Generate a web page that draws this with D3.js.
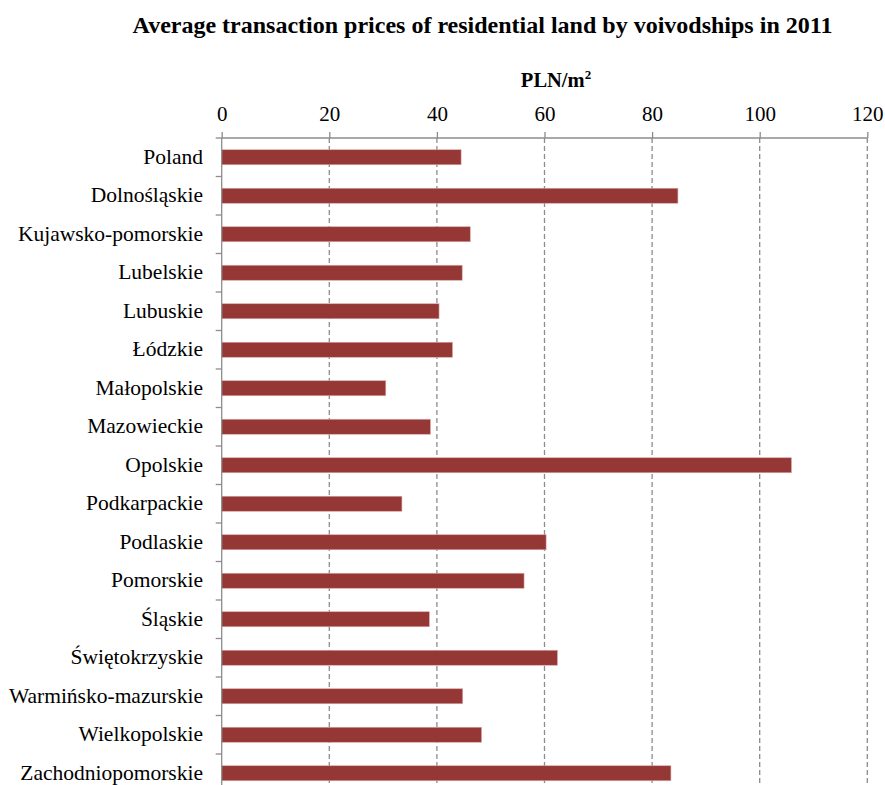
<!DOCTYPE html>
<html>
<head>
<meta charset="utf-8">
<script src="https://cdn.jsdelivr.net/npm/d3@7"></script>
<style>
  html, body { margin: 0; padding: 0; background: #fff; }
  svg { display: block; }
</style>
</head>
<body>
<script>
const categories = ["Poland","Dolnośląskie","Kujawsko-pomorskie","Lubelskie","Lubuskie","Łódzkie","Małopolskie","Mazowieckie","Opolskie","Podkarpackie","Podlaskie","Pomorskie","Śląskie","Świętokrzyskie","Warmińsko-mazurskie","Wielkopolskie","Zachodniopomorskie"];
const values = [44.5, 84.8, 46.2, 44.7, 40.4, 42.9, 30.5, 38.8, 105.9, 33.5, 60.3, 56.2, 38.6, 62.4, 44.8, 48.3, 83.5];
const xTicks = [0, 20, 40, 60, 80, 100, 120];
const title = "Average transaction prices of residential land by voivodships in 2011";

const W = 885, H = 785;
const svg = d3.select("body").append("svg").attr("width", W).attr("height", H);
const font = "'Liberation Serif','Times New Roman',serif";

const x = d3.scaleLinear().domain([0, 120]).range([221.7, 867.3]);
const y = d3.scaleBand().domain(categories).range([138, 138 + 38.5 * categories.length]).paddingInner(0.61).paddingOuter(0.305);

svg.append("text").attr("x", 482.5).attr("y", 33).attr("text-anchor", "middle")
  .attr("font-family", font).attr("font-weight", "bold").attr("font-size", 24).text(title);

const unit = svg.append("text").attr("x", 556).attr("y", 87).attr("text-anchor", "middle")
  .attr("font-family", font).attr("font-weight", "bold").attr("font-size", 20.5);
unit.append("tspan").text("PLN/m");
unit.append("tspan").attr("font-size", 13).attr("dy", -8).text("2");

// gridlines
svg.append("g").selectAll("line").data(xTicks.slice(1)).join("line")
  .attr("x1", d => x(d)).attr("x2", d => x(d)).attr("y1", 138).attr("y2", H)
  .attr("stroke", "#8c8c8c").attr("stroke-width", 1.3).attr("stroke-dasharray", "5,3");

// bars
svg.append("g").selectAll("rect").data(categories).join("rect")
  .attr("x", x(0)).attr("y", d => y(d))
  .attr("width", (d, i) => x(values[i]) - x(0)).attr("height", y.bandwidth())
  .attr("fill", "#953735").attr("stroke", "#d9a9a8").attr("stroke-width", 0.6);

// top axis
const xAxis = d3.axisTop(x).tickValues(xTicks).tickSize(6).tickPadding(11.5).tickFormat(d3.format("d"));
const gx = svg.append("g").attr("transform", "translate(0,138)").call(xAxis);
gx.select(".domain").attr("stroke", "#8c8c8c").attr("stroke-width", 1.3).attr("d", `M${x(0)},0H${x(120)}`);
gx.selectAll(".tick line").attr("stroke", "#8c8c8c").attr("stroke-width", 1.3);
gx.selectAll(".tick text").attr("font-family", font).attr("font-size", 21).attr("fill", "#000");

// left axis
svg.append("line").attr("x1", x(0)).attr("x2", x(0)).attr("y1", 138).attr("y2", H)
  .attr("stroke", "#8c8c8c").attr("stroke-width", 1.3);
const bounds = d3.range(categories.length + 1).map(i => 138 + 38.5 * i);
svg.append("g").selectAll("line").data(bounds).join("line")
  .attr("x1", x(0) - 6).attr("x2", x(0)).attr("y1", d => d).attr("y2", d => d)
  .attr("stroke", "#8c8c8c").attr("stroke-width", 1.3);
svg.append("g").selectAll("text").data(categories).join("text")
  .attr("x", 203).attr("y", d => y(d) + y.bandwidth() / 2).attr("dy", "0.3em")
  .attr("text-anchor", "end").attr("font-family", font).attr("font-size", 21.5).attr("fill", "#000")
  .text(d => d);
</script>
</body>
</html>
